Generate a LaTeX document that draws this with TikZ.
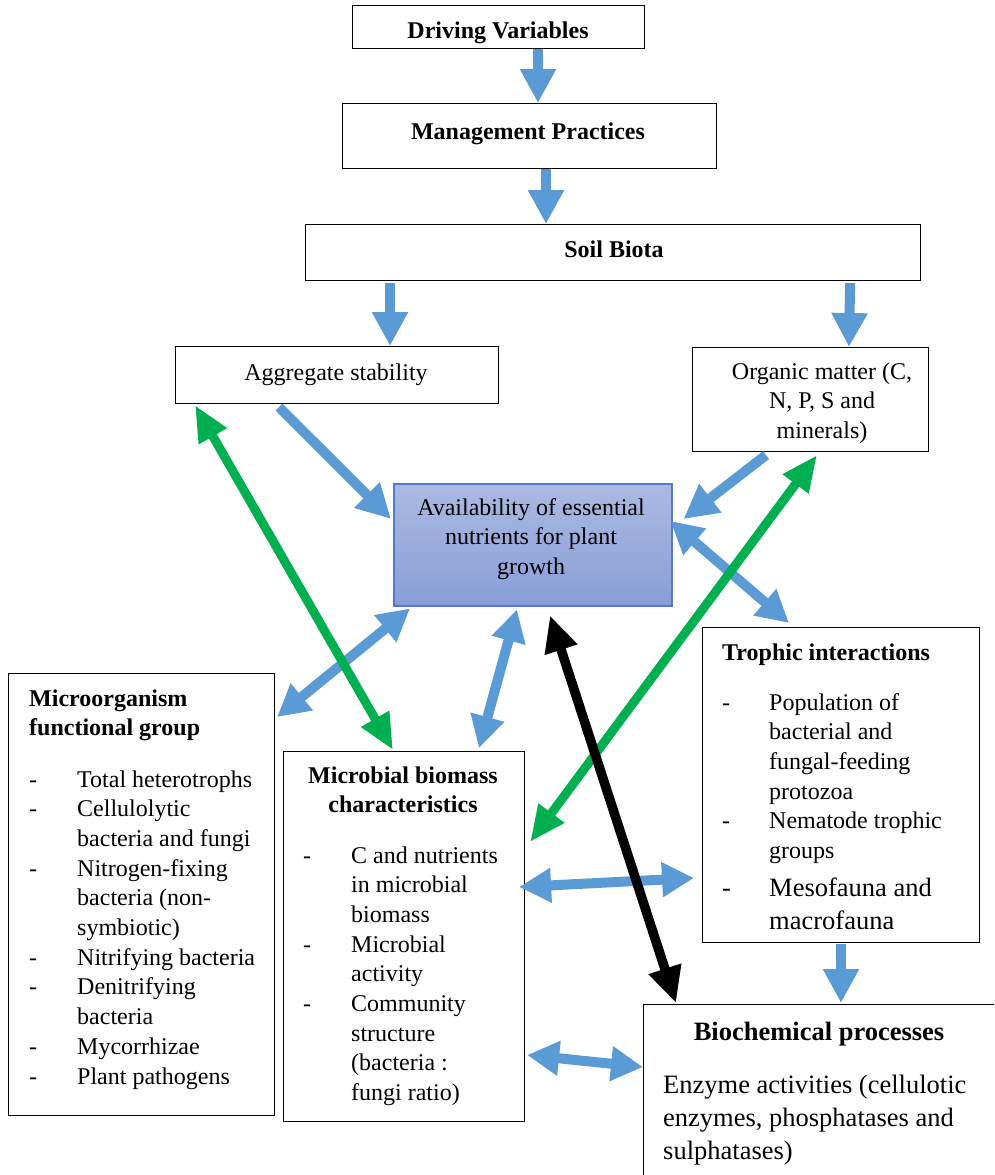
\documentclass[tikz,border=0pt]{standalone}
\usepackage{fontspec}
\setmainfont{Liberation Serif}
\usetikzlibrary{arrows.meta}
\definecolor{ablue}{RGB}{91,155,213}
\definecolor{agreen}{RGB}{0,176,80}
\definecolor{availtop}{RGB}{171,186,226}
\definecolor{availbot}{RGB}{136,158,216}
\definecolor{availdraw}{RGB}{84,122,204}
\begin{document}
\begin{tikzpicture}[x=1pt,y=-1pt,
  box/.style={draw=black,line width=1.1pt,anchor=north west,inner sep=0pt},
  txt/.style={inner sep=0pt,font=\fontsize{24}{29.7}\selectfont},
  bigtxt/.style={inner sep=0pt,font=\fontsize{26.5}{33}\selectfont},
  hd/.style={inner sep=0pt,font=\fontsize{24}{29.7}\selectfont\bfseries},
  bighd/.style={inner sep=0pt,font=\fontsize{26.5}{33}\selectfont\bfseries},
  bluearrow/.style={draw=ablue,line width=10pt,-{Triangle[width=34pt,length=34pt]}},
  bluedouble/.style={draw=ablue,line width=10pt,{Triangle[width=33pt,length=32pt]}-{Triangle[width=33pt,length=32pt]}},
  greendouble/.style={draw=agreen,line width=9pt,{Triangle[width=30pt,length=36pt]}-{Triangle[width=30pt,length=36pt]}},
  blackdouble/.style={draw=black,line width=9.5pt,{Triangle[width=32pt,length=36pt]}-{Triangle[width=32pt,length=36pt]}}
]
\useasboundingbox (0,0) rectangle (994,1175);
\clip (0,0) rectangle (994,1175);

% boxes
\node[box,minimum width=292pt,minimum height=43pt] (drive) at (352,5) {};
\node[box,minimum width=374pt,minimum height=65pt] (mgmt) at (342,103) {};
\node[box,minimum width=615pt,minimum height=56pt] (soil) at (305,224) {};
\node[box,minimum width=323pt,minimum height=57pt] (agg) at (175,346) {};
\node[box,minimum width=236pt,minimum height=104pt] (org) at (692,347) {};
\node[box,draw=availdraw,line width=1.5pt,top color=availtop,bottom color=availbot,minimum width=278pt,minimum height=122pt] (avail) at (393,483) {};
\node[box,minimum width=277pt,minimum height=315pt] (troph) at (702,627) {};
\node[box,minimum width=266pt,minimum height=442pt] (micro) at (8,673) {};
\node[box,minimum width=241pt,minimum height=370pt] (mbc) at (283,751) {};
\node[box,minimum width=380pt,minimum height=200pt] (bio) at (643,1004) {};

% texts
\node[hd,anchor=base] (tdrive) at (498,38) {Driving Variables};
\node[hd,anchor=base] (tmgmt) at (528,139) {Management Practices};
\node[hd,anchor=base] (tsoil) at (614,257) {Soil Biota};
\node[txt,anchor=base] (tagg) at (336,380) {Aggregate stability};
\node[txt,anchor=base] (torg) at (822,379) {\begin{tabular}[t]{@{}c@{}}Organic matter (C,\\N, P, S and\\minerals)\end{tabular}};
\node[txt,anchor=base] (tavail) at (531,515) {\begin{tabular}[t]{@{}c@{}}Availability of essential\\nutrients for plant\\growth\end{tabular}};

\node[hd,anchor=base west] (hmicro) at (29,706) {\begin{tabular}[t]{@{}l@{}}Microorganism\\functional group\end{tabular}};
\node[txt,anchor=base west] (lmicro) at (29,787) {\begin{tabular}[t]{@{}p{48pt}@{}l@{}}
-&Total heterotrophs\\ -&Cellulolytic\\ &bacteria and fungi\\ -&Nitrogen-fixing\\ &bacteria (non-\\ &symbiotic)\\ -&Nitrifying bacteria\\ -&Denitrifying\\ &bacteria\\ -&Mycorrhizae\\ -&Plant pathogens\end{tabular}};

\node[hd,anchor=base] (hmbc) at (403,783) {\begin{tabular}[t]{@{}c@{}}Microbial biomass\\characteristics\end{tabular}};
\node[txt,anchor=base west] (lmbc) at (303,863) {\begin{tabular}[t]{@{}p{48pt}@{}l@{}}
-&C and nutrients\\ &in microbial\\ &biomass\\ -&Microbial\\ &activity\\ -&Community\\ &structure\\ &(bacteria :\\ &fungi ratio)\end{tabular}};

\node[hd,anchor=base west] (htroph) at (722,660) {Trophic interactions};
\node[txt,anchor=base west] (ltroph) at (722,710) {\begin{tabular}[t]{@{}p{47pt}@{}l@{}}
-&Population of\\ &bacterial and\\ &fungal-feeding\\ &protozoa\\ -&Nematode trophic\\ &groups\end{tabular}};
\node[bigtxt,anchor=base west] (ltroph2) at (722,896) {\begin{tabular}[t]{@{}p{47pt}@{}l@{}}
-&Mesofauna and\\ &macrofauna\end{tabular}};

\node[bighd,anchor=base] (hbio) at (819,1040) {Biochemical processes};
\node[bigtxt,anchor=base west] (tbio) at (663,1093) {\begin{tabular}[t]{@{}l@{}}Enzyme activities (cellulotic\\enzymes, phosphatases and\\sulphatases)\end{tabular}};

% blue arrows
\draw[bluearrow] ([shift={(186,0)}]drive.south west) -- ([shift={(196,0)}]mgmt.north west);
\draw[bluearrow] ([shift={(204,0)}]mgmt.south west) -- ([shift={(241,0)}]soil.north west);
\draw[bluearrow] ([shift={(85,2)}]soil.south west) -- ([shift={(215,0)}]agg.north west);
\draw[bluearrow] ([shift={(-71,2)}]soil.south east) -- ([shift={(157,0)}]org.north west);
\draw[bluearrow] ([shift={(104,3)}]agg.south west) -- ([shift={(-2,36)}]avail.north west);
\draw[bluearrow] ([shift={(74,3)}]org.south west) -- ([shift={(11,36)}]avail.north east);
\draw[bluearrow] ([shift={(139,1)}]troph.south west) -- ([shift={(198,-1)}]bio.north west);
\draw[bluedouble] ([shift={(-2,38)}]avail.north east) -- ([shift={(87,-4)}]troph.north west);
\draw[bluedouble] ([shift={(17,2)}]avail.south west) -- ([shift={(2,44)}]micro.north east);
\draw[bluedouble] ([shift={(124,3)}]avail.south west) -- ([shift={(196,-3)}]mbc.north west);
\draw[bluedouble] ([shift={(-6,136)}]mbc.north east) -- ([shift={(-8,251)}]troph.north west);
\draw[bluedouble] ([shift={(2,304)}]mbc.north east) -- ([shift={(0,63)}]bio.north west);
% green arrows
\draw[greendouble] ([shift={(20,1)}]agg.south west) -- ([shift={(110,-1)}]mbc.north west);
\draw[greendouble] ([shift={(125,3)}]org.south west) -- ([shift={(5,91)}]mbc.north east);
% black arrow
\draw[blackdouble] ([shift={(157,9)}]avail.south west) -- ([shift={(33,-1)}]bio.north west);
\end{tikzpicture}
\end{document}
